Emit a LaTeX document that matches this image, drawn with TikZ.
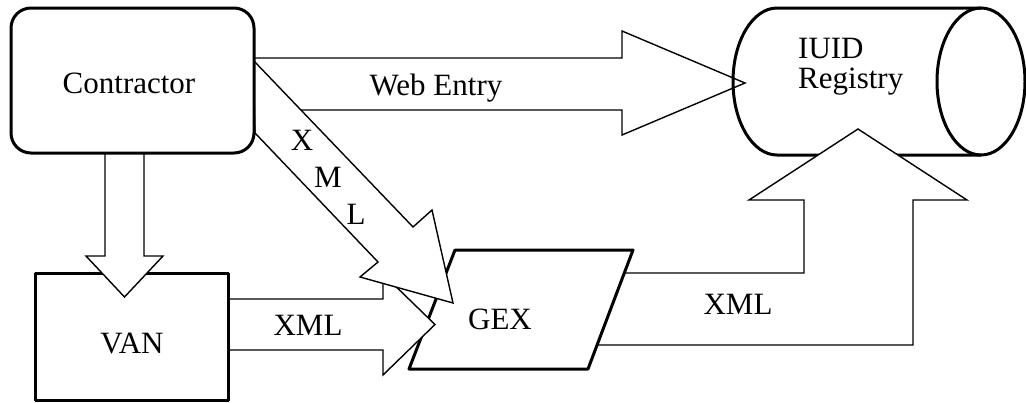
\documentclass[tikz,border=0pt]{standalone}
\usepackage{fontspec}
\setmainfont{Liberation Serif}
\begin{document}
\begin{tikzpicture}[x=1pt,y=-1pt,
  boxline/.style={line width=3pt, line join=round, draw=black, fill=white},
  blockarrow/.style={fill=white, draw=black, line width=1.4pt, line join=miter},
  lbl/.style={anchor=base, inner sep=0pt, font=\fontsize{31}{30}\selectfont}]
\useasboundingbox (0,0) rectangle (1026,402);

% Web Entry block arrow (Contractor -> IUID Registry)
\filldraw[blockarrow] (252,58) -- (622,58) -- (622,31) -- (745,83) -- (622,135) -- (622,110) -- (252,110) -- cycle;

% IUID Registry cylinder (outline only)
\draw[line width=3pt] (777,8) -- (981,8)
  (777,8) arc[start angle=90, end angle=270, x radius=44pt, y radius=73.5pt] -- (981,155);
\draw[line width=3pt] (981,81.5) ellipse [x radius=44pt, y radius=73.5pt];
\coordinate (iuid) at (858,81.5);

% GEX -> IUID elbow block arrow
\filldraw[blockarrow] (560,273) -- (804,273) -- (804,200) -- (749,200) -- (858,129) -- (967,200) -- (913,200) -- (913,345) -- (560,345) -- cycle;

% GEX parallelogram
\filldraw[boxline] (455,250) -- (633,250) -- (588,369) -- (409,369) -- cycle;
\coordinate (gexc) at (521,309.5);

% VAN -> GEX block arrow
\filldraw[blockarrow] (225,299) -- (383,299) -- (383,274) -- (435,324.5) -- (383,375) -- (383,350) -- (225,350) -- cycle;

% Contractor -> GEX diagonal block arrow
\filldraw[blockarrow] (253,60) -- (413,227) -- (432,210) -- (453,303) -- (360,277) -- (378,262) -- (255,133) -- cycle;

% VAN box
\node[boxline, minimum width=193pt, minimum height=127pt, inner sep=0pt, outer sep=0pt] (van) at (131.5,336.5) {};

% Contractor -> VAN block arrow
\filldraw[blockarrow] (105,145) -- (105,256) -- (86,256) -- (124.5,297) -- (163,256) -- (144,256) -- (144,145) -- cycle;

% Contractor box
\node[boxline, rounded corners=20pt, minimum width=243pt, minimum height=145pt, inner sep=0pt, outer sep=0pt] (contractor) at (132.5,80.5) {};

% Labels
\node[lbl] (tcontractor) at (129,93) {Contractor};
\node[lbl] (tweb) at (436,95) {Web Entry};
\node[lbl] (tx) at (302,150) {X};
\node[lbl] (tm) at (328,187) {M};
\node[lbl] (tl) at (356,224) {L};
\node[lbl] (txml1) at (308,335) {XML};
\node[lbl] (tvan) at (132,353) {VAN};
\node[lbl] (tgex) at (500,329) {GEX};
\node[lbl] (txml2) at (738,314) {XML};
\node[lbl, anchor=base west] (tiuid) at (798,58) {IUID};
\node[lbl, anchor=base west] (treg) at (798,88) {Registry};
\end{tikzpicture}
\end{document}
